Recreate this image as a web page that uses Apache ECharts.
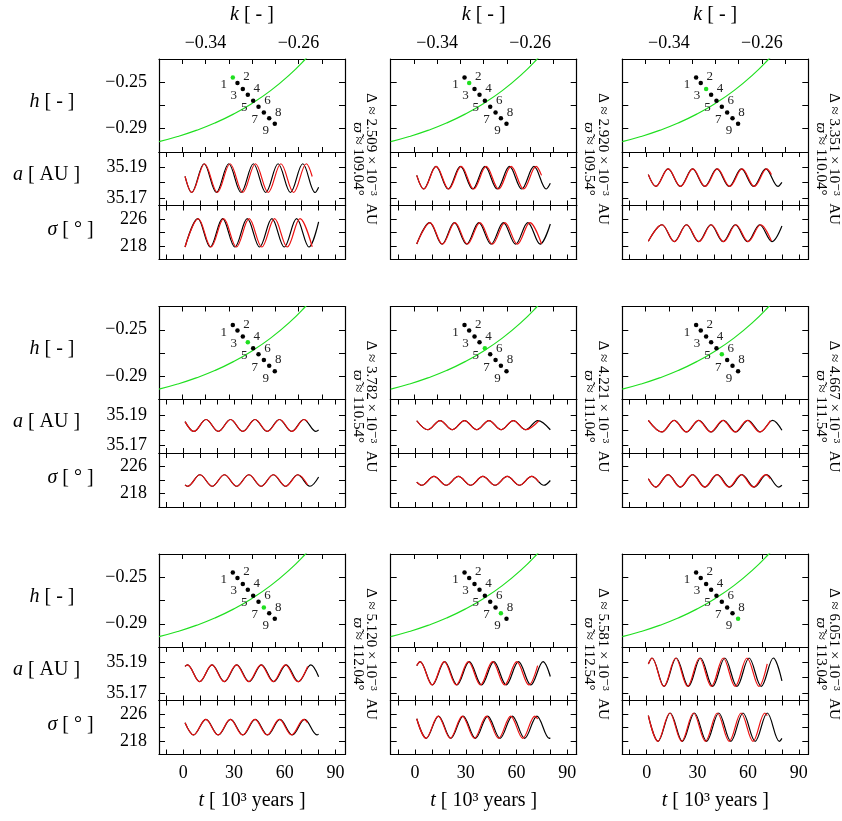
<!DOCTYPE html>
<html>
<head>
<meta charset="utf-8">
<script src="https://cdn.jsdelivr.net/npm/echarts@6/dist/echarts.min.js"></script>
<style>
  html, body { margin: 0; padding: 0; background: #fff; }
  #chart { width: 842px; height: 821px; }
</style>
</head>
<body>
<div id="chart"></div>
<script>
/* 9 panels: (k,h) plane + a(t) + sigma(t), black = numerical, red = model */

// ------------- data -------------
// initial points 1..9 in the (k,h) plane
const kDots = [-0.3165, -0.3125, -0.3079, -0.3036, -0.2990, -0.2944, -0.2898, -0.2852, -0.2804];
const hDots = [-0.2460, -0.2506, -0.2557, -0.2608, -0.2659, -0.2710, -0.2761, -0.2809, -0.2857];

// green boundary curve
const curveK = [-0.380, -0.364, -0.348, -0.332, -0.316, -0.300, -0.284, -0.268, -0.254, -0.244];
const curveH = [-0.3011, -0.2967, -0.2914, -0.2851, -0.2774, -0.2682, -0.2572, -0.2439, -0.2300, -0.2187];

// per panel labels
const deltaVals = ["2.509", "2.920", "3.351", "3.782", "4.221", "4.667", "5.120", "5.581", "6.051"];
const varpiVals = ["109.04", "109.54", "110.04", "110.54", "111.04", "111.54", "112.04", "112.54", "113.04"];

// tick values / labels
const kTicks = [-0.36, -0.34, -0.32, -0.30, -0.28, -0.26, -0.24];
const kLabels = [-0.34, -0.26];
const hTicks = [-0.29, -0.27, -0.25];
const hLabels = [-0.29, -0.25];
const tTicks = [-10, 0, 10, 20, 30, 40, 50, 60, 70, 80, 90];
const tLabels = [0, 30, 60, 90];
const aTicks = [35.17, 35.18, 35.19];
const aLabels = [35.17, 35.19];
const sTicks = [218, 222, 226];
const sLabels = [218, 226];

// a(t) extrema, [t (10^3 yr), a (AU)]
const aBlack = [
  [[1,35.1840],[4.93,35.1735],[12.23,35.1923],[19.53,35.1735],[26.83,35.1923],[34.13,35.1735],[41.43,35.1923],[48.73,35.1735],[56.03,35.1923],[63.33,35.1735],[70.63,35.1923],[77.93,35.1735],[80,35.1770]],
  [[1,35.1847],[5.09,35.1758],[12.34,35.1906],[19.59,35.1758],[26.84,35.1906],[34.09,35.1758],[41.34,35.1906],[48.59,35.1758],[55.84,35.1906],[63.09,35.1758],[70.34,35.1906],[77.59,35.1758],[80,35.1795]],
  [[1,35.1852],[5.44,35.1775],[12.67,35.1889],[19.89,35.1775],[27.12,35.1889],[34.34,35.1775],[41.57,35.1889],[48.79,35.1775],[56.02,35.1889],[63.24,35.1775],[70.47,35.1889],[77.69,35.1775],[80,35.1801]],
  [[1,35.1855],[6.2,35.1791],[13.43,35.1869],[20.65,35.1791],[27.88,35.1869],[35.1,35.1791],[42.33,35.1869],[49.55,35.1791],[56.78,35.1869],[64.0,35.1791],[71.23,35.1869],[78.45,35.1791],[80,35.1800]],
  [[1,35.1861],[7.58,35.1802],[14.81,35.1862],[22.03,35.1802],[29.26,35.1862],[36.48,35.1802],[43.71,35.1862],[50.93,35.1802],[58.16,35.1862],[65.38,35.1802],[72.61,35.1862],[80,35.1802]],
  [[1,35.1864],[9.04,35.1788],[16.31,35.1864],[23.59,35.1788],[30.86,35.1864],[38.14,35.1788],[45.41,35.1864],[52.69,35.1788],[59.96,35.1864],[67.24,35.1788],[74.51,35.1864],[80,35.1799]],
  [[1,35.1873],[2.39,35.1883],[9.69,35.1773],[16.99,35.1883],[24.29,35.1773],[31.59,35.1883],[38.89,35.1773],[46.19,35.1883],[53.49,35.1773],[60.79,35.1883],[68.09,35.1773],[75.39,35.1883],[80,35.1806]],
  [[1,35.1878],[2.97,35.1904],[10.24,35.1752],[17.52,35.1904],[24.79,35.1752],[32.07,35.1904],[39.34,35.1752],[46.62,35.1904],[53.89,35.1752],[61.17,35.1904],[68.44,35.1752],[75.72,35.1904],[80,35.1807]],
  [[1,35.1889],[3.17,35.1928],[10.35,35.1742],[17.52,35.1928],[24.7,35.1742],[31.87,35.1928],[39.05,35.1742],[46.22,35.1928],[53.4,35.1742],[60.57,35.1928],[67.75,35.1742],[74.92,35.1928],[80,35.1779]],
];
const aRed = [
  [[1,35.1840],[5.05,35.1735],[12.57,35.1923],[20.09,35.1735],[27.61,35.1923],[35.13,35.1735],[42.65,35.1923],[50.17,35.1735],[57.69,35.1923],[65.21,35.1735],[72.73,35.1923],[76.2,35.1840]],
  [[1,35.1847],[5.16,35.1758],[12.54,35.1906],[19.92,35.1758],[27.3,35.1906],[34.68,35.1758],[42.06,35.1906],[49.44,35.1758],[56.82,35.1906],[64.2,35.1758],[71.58,35.1906],[74.8,35.1847]],
  [[1,35.1852],[5.48,35.1775],[12.76,35.1889],[20.04,35.1775],[27.32,35.1889],[34.6,35.1775],[41.88,35.1889],[49.16,35.1775],[56.44,35.1889],[63.72,35.1775],[71.0,35.1889],[73.8,35.1852]],
  [[1,35.1855],[6.22,35.1791],[13.47,35.1869],[20.72,35.1791],[27.97,35.1869],[35.22,35.1791],[42.47,35.1869],[49.72,35.1791],[56.97,35.1869],[64.22,35.1791],[71.47,35.1869],[73.5,35.1855]],
  [[1,35.1861],[7.58,35.1802],[14.81,35.1862],[22.03,35.1802],[29.26,35.1862],[36.48,35.1802],[43.71,35.1862],[50.93,35.1802],[58.16,35.1862],[65.38,35.1802],[73.25,35.1861]],
  [[1,35.1864],[8.98,35.1788],[16.2,35.1864],[23.42,35.1788],[30.64,35.1864],[37.86,35.1788],[45.08,35.1864],[52.3,35.1788],[59.52,35.1864],[66.74,35.1788],[73.2,35.1862]],
  [[1,35.1873],[2.38,35.1883],[9.63,35.1773],[16.88,35.1883],[24.13,35.1773],[31.38,35.1883],[38.63,35.1773],[45.88,35.1883],[53.13,35.1773],[60.38,35.1883],[67.63,35.1773],[73.5,35.1873]],
  [[1,35.1878],[2.93,35.1904],[10.08,35.1752],[17.23,35.1904],[24.38,35.1752],[31.53,35.1904],[38.68,35.1752],[45.83,35.1904],[52.98,35.1752],[60.13,35.1904],[67.28,35.1752],[72.5,35.1878]],
  [[1,35.1889],[3.13,35.1928],[10.16,35.1742],[17.19,35.1928],[24.22,35.1742],[31.25,35.1928],[38.28,35.1742],[45.31,35.1928],[52.34,35.1742],[59.37,35.1928],[66.4,35.1742],[71.3,35.1889]],
];

// sigma(t) extrema, [t (10^3 yr), sigma (deg)]
const sigBlack = [
  [[1,217.7],[8.58,226.1],[15.88,217.7],[23.18,226.1],[30.48,217.7],[37.78,226.1],[45.08,217.7],[52.38,226.1],[59.68,217.7],[66.98,226.1],[74.28,217.7],[80,225.16]],
  [[1,218.6],[8.71,224.95],[15.96,218.55],[23.21,224.95],[30.46,218.55],[37.71,224.95],[44.96,218.55],[52.21,224.95],[59.46,218.55],[66.71,224.95],[73.96,218.55],[80,224.52]],
  [[1,219.4],[9.06,224.3],[16.28,219.3],[23.51,224.3],[30.73,219.3],[37.96,224.3],[45.18,219.3],[52.41,224.3],[59.63,219.3],[66.86,224.3],[74.08,219.3],[80,223.91]],
  [[1,220.54],[2.59,220.15],[9.81,223.55],[17.04,220.15],[24.26,223.55],[31.49,220.15],[38.71,223.55],[45.94,220.15],[53.16,223.55],[60.39,220.15],[67.61,223.55],[74.84,220.15],[80,222.91]],
  [[1,221.39],[3.97,220.45],[11.19,223.05],[18.42,220.45],[25.64,223.05],[32.87,220.45],[40.09,223.05],[47.32,220.45],[54.54,223.05],[61.77,220.45],[68.99,223.05],[76.22,220.45],[80,221.85]],
  [[1,222.35],[5.4,219.9],[12.68,223.6],[19.95,219.9],[27.23,223.6],[34.5,219.9],[41.78,223.6],[49.05,219.9],[56.33,223.6],[63.6,219.9],[70.88,223.6],[78.15,219.9],[80,220.46]],
  [[1,223.4],[6.04,219.8],[13.34,224.4],[20.64,219.8],[27.94,224.4],[35.24,219.8],[42.54,224.4],[49.84,219.8],[57.14,224.4],[64.44,219.8],[71.74,224.4],[79.04,219.8],[80,219.99]],
  [[1,224.58],[6.61,218.8],[13.88,225.4],[21.16,218.8],[28.43,225.4],[35.71,218.8],[42.98,225.4],[50.26,218.8],[57.53,225.4],[64.81,218.8],[72.08,225.4],[79.36,218.8],[80,218.93]],
  [[1,225.52],[6.76,217.9],[13.93,226.3],[21.11,217.9],[28.28,226.3],[35.46,217.9],[42.63,226.3],[49.81,217.9],[56.98,226.3],[64.16,217.9],[71.33,226.3],[78.51,217.9],[80,218.76]],
];
const sigRed = [
  [[1,217.7],[8.81,226.1],[16.33,217.7],[23.85,226.1],[31.37,217.7],[38.89,226.1],[46.41,217.7],[53.93,226.1],[61.45,217.7],[68.97,226.1],[76.2,217.73]],
  [[1,218.6],[8.85,224.95],[16.23,218.55],[23.61,224.95],[30.99,218.55],[38.37,224.95],[45.75,218.55],[53.13,224.95],[60.51,218.55],[67.89,224.95],[74.8,218.6]],
  [[1,219.4],[9.12,224.3],[16.4,219.3],[23.68,224.3],[30.96,219.3],[38.24,224.3],[45.52,219.3],[52.8,224.3],[60.08,219.3],[67.36,224.3],[73.8,219.46]],
  [[1,220.54],[2.59,220.15],[9.84,223.55],[17.09,220.15],[24.34,223.55],[31.59,220.15],[38.84,223.55],[46.09,220.15],[53.34,223.55],[60.59,220.15],[67.84,223.55],[73.5,220.54]],
  [[1,221.39],[3.97,220.45],[11.19,223.05],[18.42,220.45],[25.64,223.05],[32.87,220.45],[40.09,223.05],[47.32,220.45],[54.54,223.05],[61.77,220.45],[68.99,223.05],[73.25,221.39]],
  [[1,222.35],[5.37,219.9],[12.59,223.6],[19.81,219.9],[27.03,223.6],[34.25,219.9],[41.47,223.6],[48.69,219.9],[55.91,223.6],[63.13,219.9],[70.35,223.6],[73.2,222.35]],
  [[1,223.4],[6.01,219.8],[13.26,224.4],[20.51,219.8],[27.76,224.4],[35.01,219.8],[42.26,224.4],[49.51,219.8],[56.76,224.4],[64.01,219.8],[71.26,224.4],[73.5,223.4]],
  [[1,224.58],[6.51,218.8],[13.66,225.4],[20.81,218.8],[27.96,225.4],[35.11,218.8],[42.26,225.4],[49.41,218.8],[56.56,225.4],[63.71,218.8],[70.86,225.4],[72.5,224.58]],
  [[1,225.52],[6.64,217.9],[13.67,226.3],[20.7,217.9],[27.73,226.3],[34.76,217.9],[41.79,226.3],[48.82,217.9],[55.85,226.3],[62.88,217.9],[69.91,226.3],[71.3,225.52]],
];

// ------------- layout -------------
const COL_LEFT = [159, 390.7, 622.3];
const PANEL_W = 186;
const ROW_TOP = [59, 306.5, 554];
const HK_H = 93, A_H = 53.5, S_H = 54;
const FONT = '"Liberation Serif", "DejaVu Serif", serif';
const GREEN = "#1fdf1f";
const RED = "#ee1111";

function fmtMinus(v, d) {
  return (v < -1e-9 ? "\u2212" : "") + Math.abs(v).toFixed(d);
}

function axis(gridIndex, position, min, max, ticks, labels, fmt, tickLen, margin) {
  return {
    type: "value", gridIndex, position, min, max,
    axisLine: {show: true, onZero: false, lineStyle: {color: "#000", width: 1.2}},
    axisTick: {show: true, inside: true, length: tickLen, customValues: ticks, lineStyle: {color: "#000", width: 1}},
    axisLabel: labels
      ? {show: true, customValues: labels, formatter: fmt, margin, color: "#000", fontFamily: FONT, fontSize: 18}
      : {show: false},
    splitLine: {show: false},
  };
}

// text with an optional italic token {i|...}
function txt(x, y, text, size, rotation) {
  return {
    type: "text", x, y, rotation: rotation || 0, silent: true,
    style: {
      text, fill: "#000", fontFamily: FONT, fontSize: size,
      align: "center", verticalAlign: "middle",
      textAlign: "center", textVerticalAlign: "middle",
      rich: {
        i: {fontStyle: "italic", fontFamily: FONT, fontSize: size, fill: "#000"},
        n: {fontFamily: FONT, fontSize: size, fill: "#000"},
      },
    },
  };
}

const grids = [], xAxes = [], yAxes = [], series = [], graphics = [];

function addGrid(left, top, height) {
  grids.push({left, top, width: PANEL_W, height, show: false});
  return grids.length - 1;
}

for (let p = 0; p < 9; p++) {
  const r = Math.floor(p / 3), c = p % 3;
  const left = COL_LEFT[c], top = ROW_TOP[r];
  const tFmt = v => String(Math.round(v));

  // (k,h) panel
  const g0 = addGrid(left, top, HK_H);
  xAxes.push(axis(g0, "bottom", -0.38, -0.22, kTicks, null, null, 5, 0));
  xAxes.push(axis(g0, "top", -0.38, -0.22, kTicks, r === 0 ? kLabels : null, v => fmtMinus(v, 2), 5, 7));
  yAxes.push(axis(g0, "left", -0.31, -0.23, hTicks, c === 0 ? hLabels : null, v => fmtMinus(v, 2), 6, 12));
  yAxes.push(axis(g0, "right", -0.31, -0.23, hTicks, null, null, 6, 0));
  series.push({
    type: "line", xAxisIndex: 2 * g0, yAxisIndex: 2 * g0, smooth: 0.5, symbol: "none", silent: true,
    data: curveK.map((k, i) => [k, curveH[i]]),
    lineStyle: {color: GREEN, width: 1.2}, z: 2,
  });
  series.push({
    type: "scatter", xAxisIndex: 2 * g0, yAxisIndex: 2 * g0, symbolSize: 4.5, silent: true,
    data: kDots.map((k, i) => ({
      value: [k, hDots[i]],
      itemStyle: {color: i === p ? GREEN : "#000", opacity: 1},
      label: {offset: i % 2 === 0 ? [-9, 7] : [9, -6]},
    })),
    itemStyle: {opacity: 1},
    label: {show: true, position: "inside", formatter: d => String(d.dataIndex + 1),
            color: "#222", fontFamily: FONT, fontSize: 13},
    z: 3,
  });

  // a panel
  const g1 = addGrid(left, top + HK_H, A_H);
  xAxes.push(axis(g1, "bottom", -14.4, 95.6, tTicks, null, null, 5, 0));
  xAxes.push(axis(g1, "top", -14.4, 95.6, tTicks, null, null, 5, 0));
  yAxes.push(axis(g1, "left", 35.165, 35.2, aTicks, c === 0 ? aLabels : null, v => v.toFixed(2), 6, 12));
  yAxes.push(axis(g1, "right", 35.165, 35.2, aTicks, null, null, 6, 0));
  series.push({type: "line", xAxisIndex: 2 * g1, yAxisIndex: 2 * g1, data: aBlack[p], smooth: 0.36,
               symbol: "none", silent: true, lineStyle: {color: "#000", width: 1.2}});
  series.push({type: "line", xAxisIndex: 2 * g1, yAxisIndex: 2 * g1, data: aRed[p], smooth: 0.36,
               symbol: "none", silent: true, lineStyle: {color: RED, width: 1.2}});

  // sigma panel
  const g2 = addGrid(left, top + HK_H + A_H, S_H);
  xAxes.push(axis(g2, "bottom", -14.4, 95.6, tTicks, r === 2 ? tLabels : null, tFmt, 5, 10));
  xAxes.push(axis(g2, "top", -14.4, 95.6, tTicks, null, null, 5, 0));
  yAxes.push(axis(g2, "left", 214, 230, sTicks, c === 0 ? sLabels : null, v => v.toFixed(0), 6, 12));
  yAxes.push(axis(g2, "right", 214, 230, sTicks, null, null, 6, 0));
  series.push({type: "line", xAxisIndex: 2 * g2, yAxisIndex: 2 * g2, data: sigBlack[p], smooth: 0.36,
               symbol: "none", silent: true, lineStyle: {color: "#000", width: 1.2}});
  series.push({type: "line", xAxisIndex: 2 * g2, yAxisIndex: 2 * g2, data: sigRed[p], smooth: 0.36,
               symbol: "none", silent: true, lineStyle: {color: RED, width: 1.2}});

  // rotated annotation to the right of the panel
  const right = left + PANEL_W;
  graphics.push(txt(right + 26, top + 100, "{n|\u0394 \u2248 " + deltaVals[p] + " \u00d7 10\u207b\u00b3  AU}", 15, -Math.PI / 2));
  graphics.push(txt(right + 12.5, top + 100, "{i|\u03d6\u0303}{n| \u2248 " + varpiVals[p] + "\u00b0}", 15, -Math.PI / 2));
}

// row / column titles
ROW_TOP.forEach(top => {
  graphics.push(txt(52, top + 42.5, "{i|h}{n| [ - ]}", 20));
  graphics.push(txt(46.5, top + 115.5, "{i|a}{n| [ AU ]}", 20));
  graphics.push(txt(70.5, top + 171, "{i|\u03c3}{n| [ \u00b0 ]}", 20));
});
COL_LEFT.forEach(left => {
  graphics.push(txt(left + PANEL_W / 2, 15, "{i|k}{n| [ - ]}", 20));
  graphics.push(txt(left + PANEL_W / 2, 801, "{i|t}{n| [ 10\u00b3 years ]}", 20));
});

const chart = echarts.init(document.getElementById("chart"), null, {renderer: "canvas"});
chart.setOption({
  animation: false,
  backgroundColor: "#fff",
  grid: grids,
  xAxis: xAxes,
  yAxis: yAxes,
  series: series,
  graphic: graphics,
});
</script>
</body>
</html>
